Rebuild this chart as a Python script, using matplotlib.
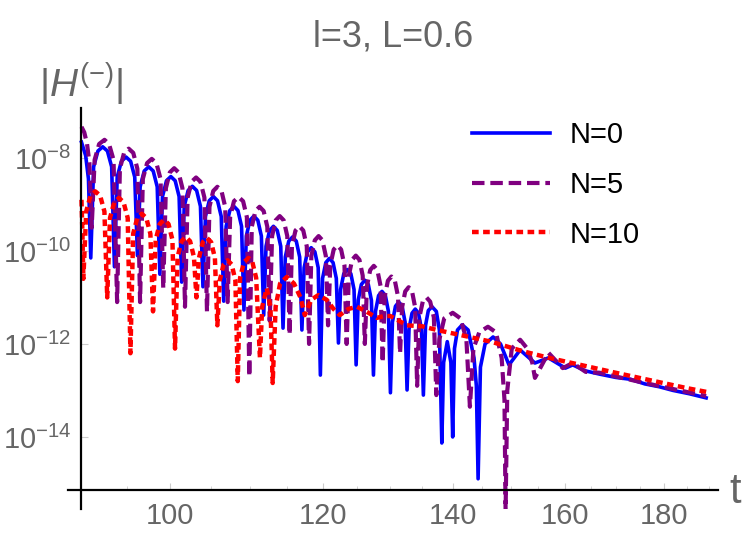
import matplotlib
matplotlib.use("Agg")
import matplotlib.pyplot as plt
import numpy as np
from matplotlib.ticker import FixedLocator, NullLocator, NullFormatter

plt.rcParams['font.family'] = ['Liberation Sans', 'DejaVu Sans']
plt.rcParams['mathtext.fontset'] = 'custom'
plt.rcParams['mathtext.rm'] = 'Liberation Sans'
plt.rcParams['mathtext.it'] = 'Liberation Sans:italic'

# (t, log10|H|): dips, shoulders and crests of each curve
n0 = [(90.0, -7.66), (90.45, -7.95), (90.75, -8.45), (91.0, -10.15),
      (91.31, -8.19), (91.78, -7.85), (92.3, -7.76), (92.82, -7.85), (93.29, -8.19), (93.6, -10.34),
      (93.91, -8.41), (94.38, -8.07), (94.9, -7.98), (95.42, -8.07), (95.89, -8.41), (96.2, -10.1),
      (96.51, -8.62), (96.98, -8.28), (97.5, -8.19), (98.02, -8.28), (98.49, -8.62), (98.8, -10.5),
      (99.11, -8.83), (99.58, -8.49), (100.1, -8.40), (100.62, -8.49), (101.09, -8.83), (101.4, -10.67),
      (101.71, -9.04), (102.18, -8.70), (102.7, -8.61), (103.22, -8.70), (103.69, -9.04), (104.0, -10.77),
      (104.31, -9.26), (104.78, -8.92), (105.3, -8.83), (105.82, -8.92), (106.29, -9.26), (106.6, -11.08),
      (106.91, -9.47), (107.38, -9.13), (107.9, -9.04), (108.42, -9.13), (108.89, -9.47), (109.2, -11.27),
      (109.51, -9.68), (109.98, -9.34), (110.5, -9.25), (111.02, -9.34), (111.49, -9.68), (111.8, -11.38),
      (112.11, -9.90), (112.58, -9.56), (113.1, -9.47), (113.62, -9.56), (114.09, -9.90), (114.4, -11.66),
      (114.71, -10.13), (115.18, -9.79), (115.7, -9.70), (116.22, -9.79), (116.69, -10.13), (117.0, -11.70),
      (117.31, -10.36), (117.78, -10.02), (118.3, -9.93), (118.82, -10.02), (119.29, -10.36), (119.6, -12.67),
      (119.91, -10.59), (120.38, -10.25), (120.9, -10.16), (121.42, -10.25), (121.89, -10.59), (122.2, -11.98),
      (122.51, -10.83), (122.98, -10.49), (123.5, -10.40), (124.02, -10.49), (124.49, -10.83), (124.8, -12.45),
      (125.11, -11.06), (125.58, -10.72), (126.1, -10.63), (126.62, -10.72), (127.09, -11.06), (127.4, -12.67),
      (127.71, -11.30), (128.18, -10.96), (128.7, -10.87), (129.22, -10.96), (129.69, -11.30), (130.0, -13.05),
      (130.31, -11.53), (130.78, -11.19), (131.3, -11.10), (131.82, -11.19), (132.29, -11.53), (132.6, -12.99),
      (132.91, -11.68), (133.38, -11.34), (133.9, -11.25), (134.42, -11.34), (134.89, -11.68), (135.2, -13.1),
      (135.55, -11.6), (136.0, -11.28), (136.6, -11.2), (137.3, -11.3), (137.8, -11.7), (138.2, -14.13),
      (138.5, -12.4), (139.1, -11.95), (139.7, -12.4), (140.0, -14.0),
      (140.3, -12.1), (140.8, -11.7), (141.6, -11.59), (142.6, -11.7), (143.6, -12.3), (144.0, -12.9), (144.3, -14.9),
      (144.7, -12.5), (145.5, -12.0), (146.9, -11.85), (148.2, -12.0), (149.2, -12.3), (149.7, -12.45),
      (151.7, -12.13), (154.4, -12.41), (156.9, -12.30), (160.1, -12.52), (161.5, -12.45),
      (164.0, -12.58), (166.8, -12.65), (170.0, -12.72), (173.0, -12.76), (176.0, -12.86),
      (179.0, -12.92), (182.0, -13.0), (185.5, -13.07), (189.3, -13.16)]

n5 = [(90.0, -7.33), (90.3, -7.45), (90.6, -7.7), (90.85, -8.1), (91.1, -9.5),
      (91.42, -8.04), (91.91, -7.70), (92.5, -7.61), (93.0, -7.70), (93.5, -8.04), (93.9, -11.1),
      (94.21, -8.23), (94.68, -7.89), (95.2, -7.80), (95.72, -7.89), (96.19, -8.23), (96.5, -11.1),
      (96.82, -8.45), (97.31, -8.11), (97.85, -8.02), (98.39, -8.11), (98.88, -8.45), (99.2, -10.8),
      (99.51, -8.65), (99.98, -8.31), (100.5, -8.22), (101.02, -8.31), (101.49, -8.65), (101.8, -11.2),
      (102.12, -8.85), (102.61, -8.51), (103.15, -8.42), (103.69, -8.51), (104.18, -8.85), (104.5, -11.3),
      (104.81, -9.05), (105.28, -8.71), (105.8, -8.62), (106.32, -8.71), (106.79, -9.05), (107.1, -11.1),
      (107.42, -9.27), (107.91, -8.93), (108.5, -8.84), (109.09, -8.93), (109.58, -9.27), (109.9, -12.7),
      (110.22, -9.48), (110.71, -9.14), (111.25, -9.05), (111.79, -9.14), (112.28, -9.48), (112.6, -11.5),
      (112.92, -9.68), (113.41, -9.34), (113.95, -9.25), (114.49, -9.34), (114.98, -9.68), (115.3, -11.8),
      (115.62, -9.90), (116.11, -9.56), (116.65, -9.47), (117.19, -9.56), (117.68, -9.90), (118.0, -12.0),
      (118.32, -10.11), (118.81, -9.77), (119.35, -9.68), (119.89, -9.77), (120.38, -10.11), (120.7, -11.6),
      (121.02, -10.31), (121.51, -9.97), (122.05, -9.88), (122.59, -9.97), (123.08, -10.31), (123.4, -12.0),
      (123.72, -10.53), (124.21, -10.19), (124.75, -10.1), (125.29, -10.19), (125.78, -10.53), (126.1, -12.0),
      (126.42, -10.75), (126.91, -10.41), (127.45, -10.32), (127.99, -10.41), (128.48, -10.75), (128.8, -12.4),
      (129.12, -10.98), (129.61, -10.64), (130.15, -10.55), (130.69, -10.64), (131.18, -10.98), (131.5, -12.2),
      (131.82, -11.21), (132.31, -10.87), (132.85, -10.78), (133.39, -10.87), (133.88, -11.21), (134.2, -12.9),
      (134.55, -11.43), (135.1, -11.09), (135.7, -11.0), (136.3, -11.09), (136.9, -11.43), (137.3, -13.1),
      (137.8, -11.9), (138.6, -11.45), (140.0, -11.33), (141.3, -11.45), (142.3, -11.9), (142.9, -13.35),
      (143.5, -12.1), (144.5, -11.75), (146.0, -11.63), (147.4, -11.75), (148.4, -12.3), (148.9, -13.2), (149.1, -15.6),
      (149.4, -13.0), (150.2, -12.1), (151.7, -11.91), (153.0, -12.1), (153.9, -12.4), (154.4, -12.73),
      (156.9, -12.19), (159.6, -12.52), (161.5, -12.41), (164.0, -12.6), (166.8, -12.62),
      (170.0, -12.7), (176.0, -12.84), (182.0, -12.97), (189.3, -13.12)]

n10 = [(90.0, -8.9), (90.1, -9.6), (90.2, -10.6),
       (90.51, -9.15), (90.98, -8.81), (91.5, -8.72), (92.02, -8.81), (92.49, -9.15), (92.8, -11.0),
       (93.11, -9.29), (93.58, -8.95), (94.1, -8.86), (94.62, -8.95), (95.09, -9.29), (95.4, -12.2),
       (95.71, -9.63), (96.18, -9.29), (96.7, -9.2), (97.22, -9.29), (97.69, -9.63), (98.0, -11.3),
       (98.31, -9.76), (98.78, -9.42), (99.3, -9.33), (99.82, -9.42), (100.29, -9.76), (100.6, -12.1),
       (100.91, -10.13), (101.38, -9.79), (101.9, -9.7), (102.42, -9.79), (102.89, -10.13), (103.2, -11.0),
       (103.51, -10.15), (103.98, -9.81), (104.5, -9.72), (105.02, -9.81), (105.49, -10.15), (105.8, -11.6),
       (106.11, -10.63), (106.58, -10.29), (107.1, -10.2), (107.62, -10.29), (108.09, -10.63), (108.4, -12.8),
       (108.7, -10.58), (109.2, -10.24), (109.8, -10.15), (110.3, -10.24), (110.8, -10.58), (111.3, -12.3),
       (111.6, -11.2), (112.2, -10.8), (112.7, -11.2), (113.0, -12.84),
       (113.4, -11.2), (114.0, -10.7), (114.9, -10.56), (115.9, -10.7), (116.8, -11.0), (117.4, -11.38),
       (118.3, -11.05), (119.3, -10.95), (120.5, -11.05), (121.5, -11.25), (122.4, -11.38),
       (123.6, -11.25), (124.9, -11.2), (126.3, -11.3), (127.9, -11.44), (129.0, -11.4),
       (130.0, -11.4), (131.3, -11.5), (132.6, -11.6), (135.0, -11.62), (137.4, -11.7),
       (141.0, -11.8), (146.5, -11.95), (152.0, -12.15), (157.0, -12.3), (163.0, -12.45),
       (170.0, -12.62), (178.0, -12.8), (185.0, -12.95), (189.3, -13.03)]

labels = ['N=0', 'N=5', 'N=10']
colors = ['#0000ff', '#800080', '#ff0000']
x_ticks = [100, 120, 140, 160, 180]
x_minor = [95, 105, 110, 115, 125, 130, 135, 145, 150, 155, 165, 170, 175, 185, 190]
y_exps = [-8, -10, -12, -14]

gray = '#666666'

fig = plt.figure(figsize=(7.5, 5.34), dpi=100)
ax = fig.add_axes([0.0907, 0.0468, 0.8667, 0.751])
ax.set_xscale('log')
ax.set_yscale('log')

styles = [dict(ls='-', lw=2.6),
          dict(ls=(0, (3.0, 1.4)), lw=3.0),
          dict(ls=(0, (1.5, 1.0)), lw=3.2)]
for data, lab, c, st in zip([n0, n5, n10], labels, colors, styles):
    arr = np.array(data)
    ax.plot(arr[:, 0], 10.0 ** arr[:, 1], color=c, label=lab, **st)

ax.set_xlim(88.57, 192.0)
ax.set_ylim(10 ** -15.55, 10 ** -6.925)

for s in ['top', 'right']:
    ax.spines[s].set_visible(False)
ax.spines['bottom'].set_position(('data', 10 ** -15.14))
ax.spines['left'].set_position(('data', 89.95))
ax.spines['bottom'].set_linewidth(1.6)
ax.spines['left'].set_linewidth(1.6)

ax.xaxis.set_major_locator(FixedLocator(x_ticks))
ax.xaxis.set_minor_locator(FixedLocator(x_minor))
ax.xaxis.set_minor_formatter(NullFormatter())
ax.set_xticklabels([str(v) for v in x_ticks])
ax.yaxis.set_major_locator(FixedLocator([10.0 ** e for e in y_exps]))
ax.yaxis.set_minor_locator(NullLocator())
ax.set_yticklabels(['$10^{%d}$' % e for e in y_exps])

ax.tick_params(axis='both', which='both', direction='in', color='#cccccc',
               labelcolor=gray, labelsize=21)
ax.tick_params(axis='x', which='major', length=5, pad=9)
ax.tick_params(axis='x', which='minor', length=3)
ax.tick_params(axis='y', which='major', length=5, pad=7)

fig.text(0.524, 0.912, 'l=3, L=0.6', ha='center', va='baseline', fontsize=26, color=gray)
fig.text(0.052, 0.817, r'$|H^{(-)}|$', ha='left', va='baseline', fontsize=28, color=gray)
fig.text(0.972, 0.058, 't', ha='left', va='baseline', fontsize=30, color=gray)

ax.legend(loc='upper left', bbox_to_anchor=(0.603, 0.997), frameon=False, fontsize=21,
          handlelength=2.7, handletextpad=0.65, labelspacing=0.75, borderaxespad=0)

fig.savefig('out.png', dpi=100)
